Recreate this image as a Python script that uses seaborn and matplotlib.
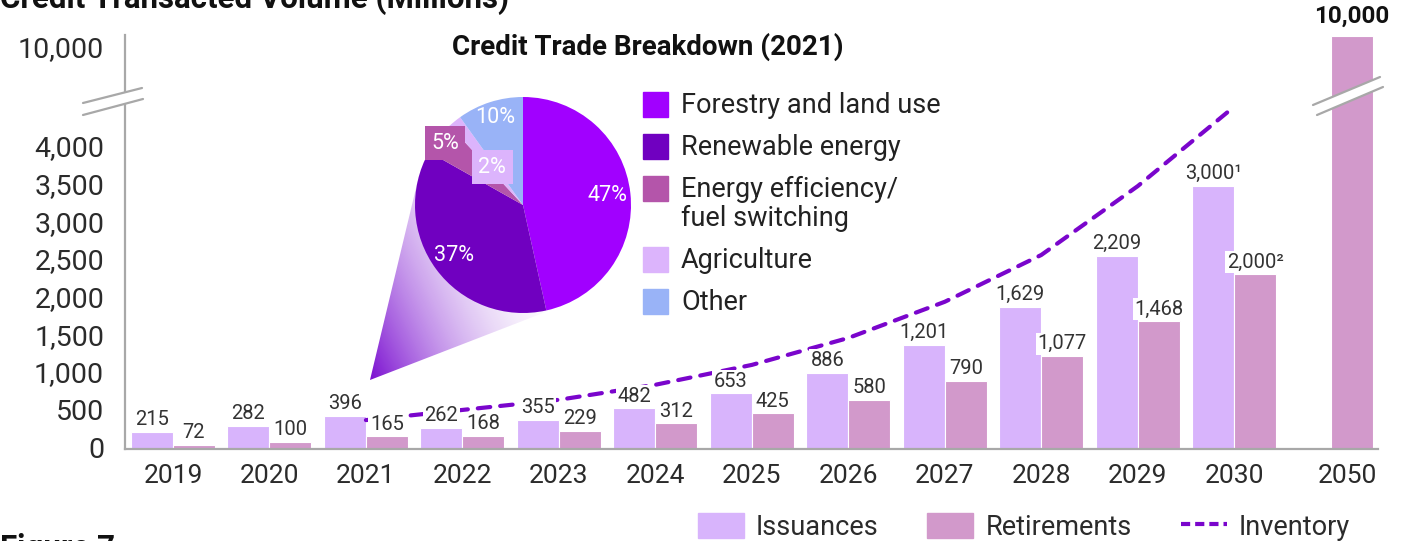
import numpy as np
import pandas as pd
import matplotlib
matplotlib.use('Agg')
import matplotlib.pyplot as plt
import seaborn as sns
from matplotlib.patches import Patch, Polygon, Rectangle
from matplotlib.lines import Line2D

sns.set_style('white')
plt.rcParams['font.family'] = ['Roboto', 'DejaVu Sans']

# ---- data ----
years = ['2019', '2020', '2021', '2022', '2023', '2024', '2025',
         '2026', '2027', '2028', '2029', '2030', '2050']
issuances = [215, 282, 396, 262, 355, 482, 653, 886, 1201, 1629, 2209, 3000]
retirements = [72, 100, 165, 168, 229, 312, 425, 580, 790, 1077, 1468, 2000, 10000]
issuance_notes = {'2030': '\u00b9'}
retirement_notes = {'2030': '\u00b2'}

inventory_years = ['2021', '2022', '2023', '2024', '2025', '2026', '2027', '2028', '2029', '2030']
inventory = [350, 465, 580, 750, 975, 1280, 1690, 2220, 3000, 3900]

y_ticks = [0, 500, 1000, 1500, 2000, 2500, 3000, 3500, 4000, 10000]

pie_labels = ['Forestry and land use', 'Renewable energy',
              'Energy efficiency/\nfuel switching', 'Agriculture', 'Other']
pie_shares = [47, 37, 5, 2, 10]

# ---- styling ----
ISS = '#D8B4FC'
RET = '#D299CB'
LINE = '#7A05CC'
GREY = '#A8A8A8'
TXT = '#2B2B2B'
pie_colors = ['#A100FF', '#7000C0', '#B455AA', '#DCB4FC', '#99B3F7']

W, H = 1414, 541
AX_L, AX_R, AX_T, AX_B = 125, 1378, 35, 449


def px_box(l, t, r, b):
    return [l / W, 1 - b / H, (r - l) / W, (b - t) / H]


def broken_axis(a, zero_px, unit_px, brk_px, mark_val, mark_px):
    # linear below the break, squeezed above it so that mark_val sits at mark_px
    brk = (zero_px - brk_px) / unit_px
    squeeze = ((zero_px - mark_px) / unit_px - brk) / (mark_val - brk)

    def fwd(v):
        v = np.asarray(v, dtype=float)
        return np.where(v > brk, brk + (v - brk) * squeeze, v)

    def inv(v):
        v = np.asarray(v, dtype=float)
        return np.where(v > brk, brk + (v - brk) / squeeze, v)

    a.set_yscale('function', functions=(fwd, inv))
    a.set_ylim(float(inv((zero_px - AX_B) / unit_px)), float(inv((zero_px - AX_T) / unit_px)))


fig = plt.figure(figsize=(W / 100, H / 100), dpi=100)

# y axis with its own tick scale (as drawn in the reference)
ay = fig.add_axes(px_box(AX_L, AX_T, AX_R, AX_B), zorder=0)
ax = fig.add_axes(px_box(AX_L, AX_T, AX_R, AX_B), zorder=1)
ax.patch.set_visible(False)

df = pd.concat([
    pd.DataFrame({'year': years[:len(issuances)], 'value': issuances, 'series': 'Issuances'}),
    pd.DataFrame({'year': years, 'value': retirements, 'series': 'Retirements'}),
])

sns.barplot(data=df, x='year', y='value', hue='series', order=years,
            hue_order=['Issuances', 'Retirements'], palette=[ISS, RET],
            saturation=1, width=0.87, gap=0, edgecolor='white', linewidth=0.8,
            errorbar=None, legend=False, ax=ax)

inv_pos = [years.index(y) for y in inventory_years]
sns.lineplot(x=inv_pos, y=inventory, ax=ax, color=LINE, lw=3,
             linestyle=(0, (3, 2.4)), dash_capstyle='round', zorder=2)

broken_axis(ax, 451, 0.0883, 95, 10000, 36)
broken_axis(ay, 447, 0.07525, 98, 10000, 47)

# bar value labels
iss_labels = [f'{v:,}' + issuance_notes.get(y, '') for y, v in zip(years, issuances)]
ret_labels = [f'{v:,}' + retirement_notes.get(y, '') for y, v in zip(years, retirements)]
box = dict(boxstyle='square,pad=0.08', fc='white', ec='none')
for cont, labs in zip(ax.containers, [iss_labels, ret_labels]):
    texts = ax.bar_label(cont, labels=labs, padding=2, fontsize=14.5, color='#333333',
                         bbox=box, zorder=3)
    for t in texts:
        t.set_annotation_clip(False)
big = texts[-1]
big.set_fontweight('bold')
big.set_fontsize(17.5)
big.set_color('#111111')
big.xyann = (0, 6)

xt = np.arange(len(years), dtype=float)
xt[-1] += 0.17
ax.set_xticks(xt, years)
ax.set_xlim(-0.497, 12.49)
ax.set_yticks([])
ax.set_xlabel('')
ax.set_ylabel('')
ax.tick_params(axis='x', length=0, pad=11, labelsize=19, labelcolor=TXT)
for s in ['left', 'top', 'right']:
    ax.spines[s].set_visible(False)
ax.spines['bottom'].set_color(GREY)
ax.spines['bottom'].set_linewidth(1.6)

ay.set_xticks([])
ay.set_yticks(y_ticks, [f'{v:,}' for v in y_ticks])
ay.tick_params(axis='y', length=0, pad=15, labelsize=20.5, labelcolor=TXT)
for s in ['bottom', 'top', 'right']:
    ay.spines[s].set_visible(False)
ay.spines['left'].set_color(GREY)
ay.spines['left'].set_linewidth(1.6)

# overlay in figure pixels for decorations and free text
ov = fig.add_axes([0, 0, 1, 1], zorder=2)
ov.patch.set_visible(False)

# zoom cone from the 2021 bar to the pie
apex = np.array([370.0, 380.0])
centre = np.array([523.0, 205.0])
radius = 108.0
d = centre - apex
dist = np.hypot(*d)
base = np.arctan2(d[1], d[0])
half = np.arcsin(radius / dist)
tlen = np.sqrt(dist ** 2 - radius ** 2)
tang = [apex + tlen * np.array([np.cos(base + s * half), np.sin(base + s * half)]) for s in (-1, 1)]
cone = Polygon([apex, tang[0], centre, tang[1]], closed=True, fc='none', ec='none',
               transform=ov.transData)
ov.add_patch(cone)
x0, x1, y0, y1 = 360, 580, 170, 390
gx, gy = np.meshgrid(np.arange(x0, x1), np.arange(y0, y1))
ang = np.deg2rad(25)
proj = (gx - apex[0]) * np.cos(ang) + (apex[1] - gy) * np.sin(ang)
rgba = np.zeros(gx.shape + (4,))
rgba[..., :3] = matplotlib.colors.to_rgb('#7A0ED0')
rgba[..., 3] = np.clip(1 - proj / 210, 0, 1) ** 1.8
im = ov.imshow(rgba, extent=(x0, x1, y1, y0), origin='upper', interpolation='bilinear')
im.set_clip_path(cone)

# axis break marks
for (a, b), (c, e) in [(((83, 103), (142, 88)), ((83, 115), (143, 99))),
                       (((1313, 105), (1380, 77)), ((1317, 115), (1383, 87)))]:
    ov.add_patch(Polygon([a, b, e, c], closed=True, fc='white', ec='none'))
    ov.plot([a[0], b[0]], [a[1], b[1]], color=GREY, lw=1.6)
    ov.plot([c[0], e[0]], [c[1], e[1]], color=GREY, lw=1.6)

ov.text(0, 7.5, 'Credit Transacted Volume (Millions)', fontsize=22.5, fontweight='bold',
        color='#111111', va='baseline', ha='left')
ov.text(0, 557, 'Figure 7', fontsize=22.5, fontweight='bold', color='#111111',
        va='baseline', ha='left')
ov.text(648, 47, 'Credit Trade Breakdown (2021)', fontsize=20, fontweight='bold',
        color='#111111', va='center', ha='center')

# pie legend, one text per line so the swatch sits on the first line
row = 104
for lab, col in zip(pie_labels, pie_colors):
    ov.add_patch(Rectangle((643, row - 12.5), 25, 25, color=col))
    for i, part in enumerate(lab.split('\n')):
        ov.text(681, row + 9 + 29 * i, part, fontsize=19.5, color='#222222',
                va='baseline', ha='left')
    row += 42 + 29 * lab.count('\n')

ov.set_xlim(0, W)
ov.set_ylim(H, 0)
ov.set_aspect('auto')
ov.axis('off')

# pie inset
pax = fig.add_axes(px_box(centre[0] - radius, centre[1] - radius,
                          centre[0] + radius, centre[1] + radius), zorder=3)
wedges, _ = pax.pie(pie_shares, colors=pie_colors, startangle=90, counterclock=False,
                    radius=1, wedgeprops=dict(linewidth=0))
label_dist = [0.79, 0.79, 0.92, 0.45, 0.85]
boxed = [False, False, True, True, False]
for w, share, r, bx, col in zip(wedges, pie_shares, label_dist, boxed, pie_colors):
    th = np.deg2rad((w.theta1 + w.theta2) / 2)
    kw = dict(bbox=dict(boxstyle='square,pad=0.3', fc=col, ec='none')) if bx else {}
    pax.text(r * np.cos(th), r * np.sin(th), f'{share}%', color='white', fontsize=15.5,
             ha='center', va='center', **kw)
pax.set_xlim(-1, 1)
pax.set_ylim(-1, 1)
pax.set_aspect('equal')
pax.axis('off')

# bottom legend
handles = [Patch(color=ISS), Patch(color=RET),
           Line2D([0], [0], color=LINE, lw=3, linestyle=(0, (2.2, 1.2)))]
leg = fig.legend(handles, ['Issuances', 'Retirements', 'Inventory'], loc='center right',
                 bbox_to_anchor=(1350 / W, 1 - 527 / H), ncol=3, frameon=False,
                 fontsize=19.5, handlelength=1.7, handleheight=1.0, handletextpad=0.45,
                 columnspacing=1.8, borderaxespad=0, borderpad=0)
for t in leg.get_texts():
    t.set_color(TXT)

fig.savefig('out.png', dpi=100)
